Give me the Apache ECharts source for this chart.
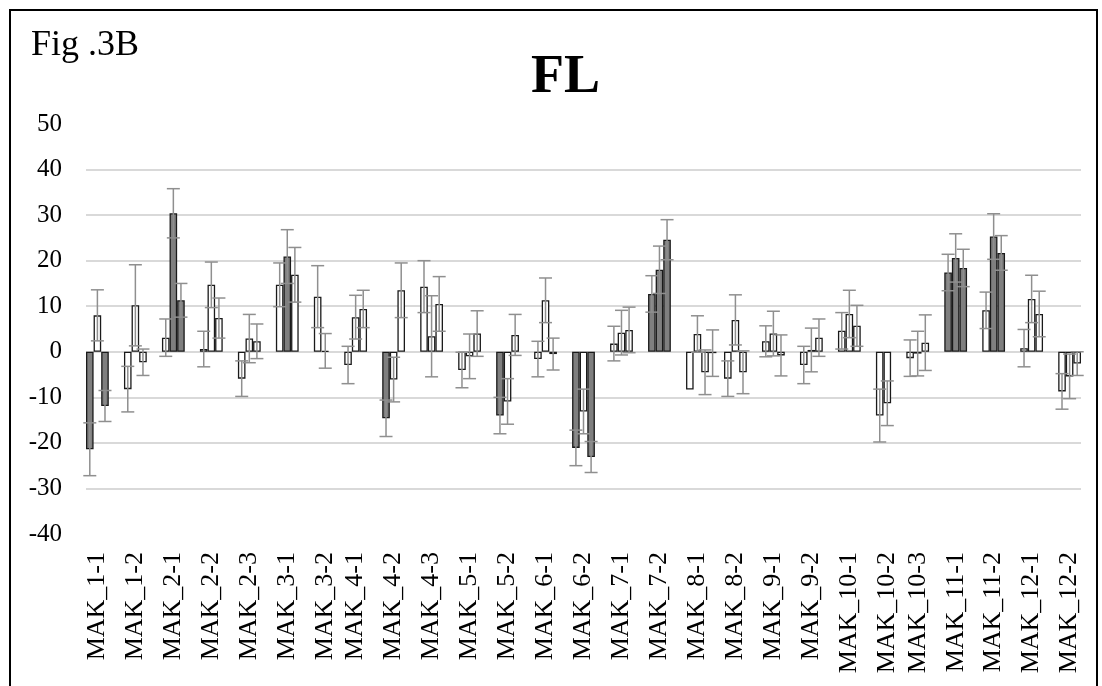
<!DOCTYPE html>
<html lang="en">
<head>
    <meta charset="utf-8">
    <title>FL</title>
    <script src="https://cdn.jsdelivr.net/npm/echarts@6/dist/echarts.min.js"></script>
    <style>
        html, body { margin: 0; padding: 0; background: #fff; }
    </style>
</head>

<body>
    <div id="main" style="width:1102px;height:686px;"></div>

    <script type="text/javascript">

    // one label per group of bars
    var groups = ['MAK_1-1','MAK_1-2','MAK_2-1','MAK_2-2','MAK_2-3','MAK_3-1','MAK_3-2',
                  'MAK_4-1','MAK_4-2','MAK_4-3','MAK_5-1','MAK_5-2','MAK_6-1','MAK_6-2',
                  'MAK_7-1','MAK_7-2','MAK_8-1','MAK_8-2','MAK_9-1','MAK_9-2','MAK_10-1',
                  'MAK_10-2','MAK_10-3','MAK_11-1','MAK_11-2','MAK_12-1','MAK_12-2'];

    // mean change per bar in each group
    var means = [
        [-21.4, 8.0, -11.9], [-8.2, 10.2, -2.3], [3.1, 30.4, 11.3], [0.6, 14.7, 7.4],
        [-5.9, 2.9, 2.3], [14.7, 20.9, 16.9], [12.1, 0.2], [-2.9, 7.6, 9.4],
        [-14.6, -6.1, 13.5], [14.3, 3.4, 10.5], [-4.0, -1.0, 4.0], [-14.0, -10.9, 3.7],
        [-1.6, 11.3, -0.5], [-21.1, -13.1, -23.1], [1.8, 4.2, 4.8], [12.7, 18.0, 24.6],
        [-8.3, 3.9, -4.5, -0.3], [-5.9, 7.0, -4.5], [2.3, 4.0, -0.8], [-2.9, 0.4, 3.1],
        [4.6, 8.3, 5.7], [-14.0, -11.3], [-1.4, -0.4, 2.0], [17.4, 20.6, 18.4],
        [9.1, 25.3, 21.7], [0.8, 11.6, 8.3], [-8.7, -5.4, -2.6]
    ];

    // error bar half length
    var errs = [
        [5.8, 5.6, 3.4], [5.0, 8.9, 2.9], [4.1, 5.4, 3.7], [3.9, 5.0, 4.4],
        [3.9, 5.3, 3.8], [4.8, 5.9, 6.0], [6.8, 3.8], [4.1, 4.8, 4.1],
        [4.0, 4.9, 6.0], [5.7, 8.9, 6.0], [3.9, 4.9, 5.0], [4.0, 5.0, 4.5],
        [3.9, 4.9, 3.5], [3.9, 4.9, 3.4], [3.8, 4.9, 5.0], [4.0, 5.2, 4.4],
        [0, 4.0, 4.9, 5.1], [3.9, 5.5, 4.7], [3.4, 4.9, 4.5], [4.1, 4.8, 4.1],
        [4.0, 5.2, 4.5], [5.8, 4.9], [4.0, 4.9, 6.1], [4.0, 5.3, 4.1],
        [4.0, 5.0, 3.8], [4.1, 5.2, 5.0], [3.9, 4.9, 2.6]
    ];

    // 1 = significant (grey bar), 0 = not (white bar)
    var sig = [
        [1, 0, 1], [0, 0, 0], [0, 1, 1], [0, 0, 0], [0, 0, 0], [0, 1, 0], [0, 0], [0, 0, 0],
        [1, 0, 0], [0, 0, 0], [0, 0, 0], [1, 0, 0], [0, 0, 0], [1, 0, 1], [0, 0, 0], [1, 1, 1],
        [0, 0, 0, 0], [0, 0, 0], [0, 0, 0], [0, 0, 0], [0, 0, 0], [0, 0], [0, 0, 0], [1, 1, 1],
        [0, 1, 1], [0, 0, 0], [0, 0, 0]
    ];

    var yTicks = { min: -40, max: 50, step: 10 };

    // build the slot axis: bars of a group side by side, then empty slots
    var slotLabels = [], barData = [], errData = [];
    groups.forEach(function (name, g) {
        var n = means[g].length;
        var start = slotLabels.length;
        var width = g === groups.length - 1 ? n : Math.min(n + 2, 5);
        for (var k = 0; k < width; k++) {
            var idx = start + k;
            slotLabels.push(k === 1 ? name : '');
            if (k < n) {
                barData.push({
                    value: means[g][k],
                    itemStyle: { color: sig[g][k] ? '#7f7f7f' : '#ffffff' }
                });
                if (errs[g][k] > 0) {
                    errData.push([idx, means[g][k] - errs[g][k], means[g][k] + errs[g][k]]);
                }
            } else {
                barData.push(null);
            }
        }
    });

    var myChart = echarts.init(document.getElementById('main'));

    myChart.setOption({
        backgroundColor: '#fff',
        animation: false,
        title: [{
            text: 'Fig .3B',
            left: 26, top: 23,
            textStyle: { fontFamily: 'Liberation Serif', fontSize: 36, fontWeight: 'normal', color: '#000' }
        }, {
            text: 'FL',
            left: 526, top: 46,
            textStyle: { fontFamily: 'Liberation Serif', fontSize: 54, fontWeight: 'bold', color: '#000' }
        }],
        graphic: [{
            type: 'rect',
            shape: { x: 10, y: 10, width: 1087, height: 700 },
            style: { fill: 'none', stroke: '#000', lineWidth: 2 },
            silent: true
        }],
        grid: { left: 86, right: 21, top: 124, bottom: 152 },
        xAxis: {
            type: 'category',
            data: slotLabels,
            axisLine: { show: false, onZero: false },
            axisTick: { show: false },
            axisLabel: {
                interval: 0,
                rotate: 90,
                margin: 18,
                fontFamily: 'Liberation Serif',
                fontSize: 26,
                color: '#000'
            }
        },
        yAxis: {
            type: 'value',
            min: yTicks.min,
            max: yTicks.max,
            interval: yTicks.step,
            axisLine: { show: false },
            axisTick: { show: false },
            axisLabel: {
                margin: 24,
                fontFamily: 'Liberation Serif',
                fontSize: 25,
                color: '#000'
            },
            splitLine: {
                showMinLine: false,
                showMaxLine: false,
                lineStyle: { color: '#d9d9d9', width: 2 }
            }
        },
        series: [{
            type: 'bar',
            data: barData,
            barCategoryGap: '0%',
            itemStyle: { borderColor: '#1a1a1a', borderWidth: 1.3 }
        }, {
            type: 'custom',
            data: errData,
            z: 5,
            renderItem: function (params, api) {
                var lo = api.coord([api.value(0), api.value(1)]);
                var hi = api.coord([api.value(0), api.value(2)]);
                var w = 6.5;
                var st = { stroke: '#8f8f8f', lineWidth: 1.5 };
                return {
                    type: 'group',
                    children: [
                        { type: 'line', shape: { x1: hi[0], y1: hi[1], x2: lo[0], y2: lo[1] }, style: st },
                        { type: 'line', shape: { x1: hi[0] - w, y1: hi[1], x2: hi[0] + w, y2: hi[1] }, style: st },
                        { type: 'line', shape: { x1: lo[0] - w, y1: lo[1], x2: lo[0] + w, y2: lo[1] }, style: st }
                    ]
                };
            }
        }]
    });

    </script>
</body>
</html>
